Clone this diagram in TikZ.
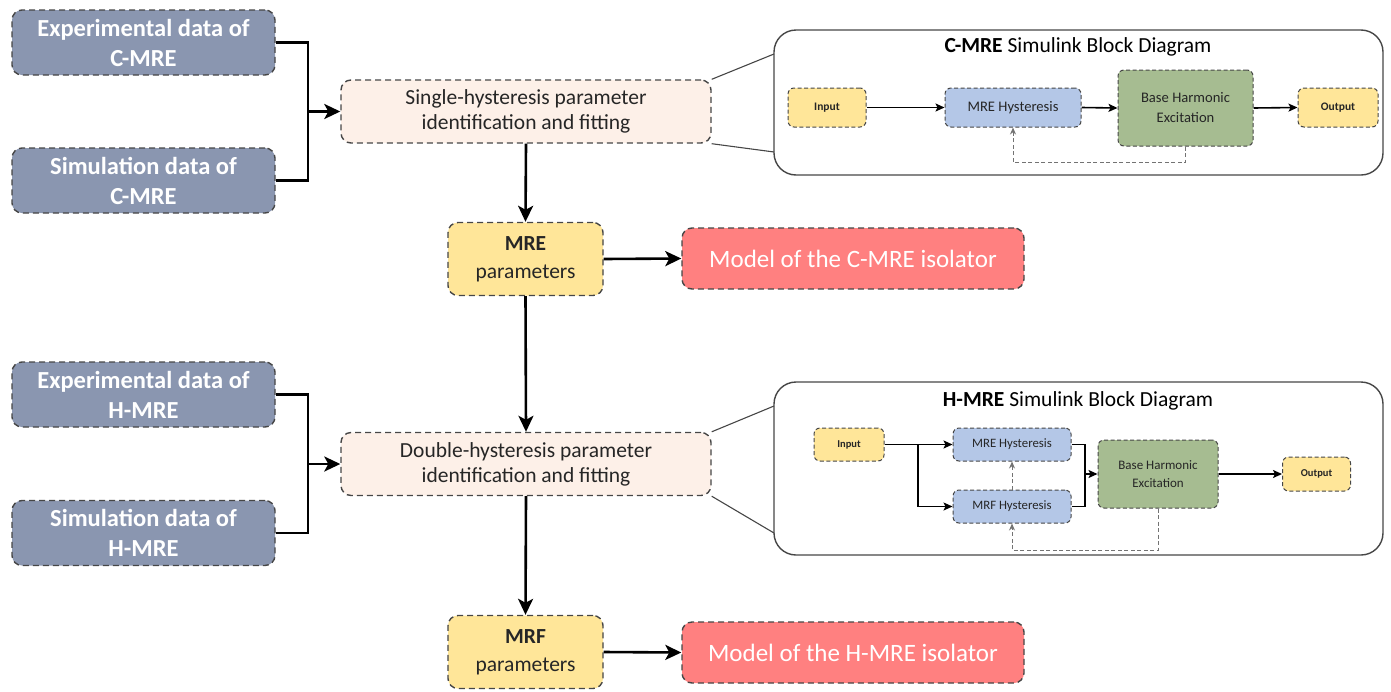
\documentclass[tikz,border=0pt]{standalone}
\usepackage{fontspec}
\setmainfont{Carlito}
\usepackage{xcolor}
\usepackage{tikz}
\usetikzlibrary{shapes.geometric, arrows, arrows.meta}
\definecolor{slate}{RGB}{138,150,176}
\definecolor{peach}{RGB}{253,240,232}
\definecolor{paleyellow}{RGB}{255,230,153}
\definecolor{salmon}{RGB}{255,128,128}
\definecolor{lightblue}{RGB}{180,199,231}
\definecolor{sage}{RGB}{166,188,145}
\definecolor{edge}{RGB}{70,70,70}
\tikzstyle{box} = [draw=edge, line width=1.4pt, dash pattern=on 6pt off 4pt, rounded corners=10pt, align=center, inner sep=0pt, text=black!85]
\tikzstyle{databox} = [box, fill=slate, text=white, minimum width=263pt, minimum height=65pt, font=\fontsize{24.5}{30}\selectfont\bfseries]
\tikzstyle{fitbox} = [box, fill=peach, minimum width=370pt, minimum height=63pt, font=\fontsize{21.5}{25}\selectfont]
\tikzstyle{parbox} = [box, fill=paleyellow, minimum width=155pt, minimum height=73pt, font=\fontsize{21.5}{28}\selectfont]
\tikzstyle{modelbox} = [box, fill=salmon, text=white, minimum width=342pt, minimum height=61pt, font=\fontsize{25}{28}\selectfont]
\tikzstyle{callout} = [draw=edge, line width=1.4pt, rounded corners=22pt]
\tikzstyle{sbox} = [draw=edge, line width=1pt, dash pattern=on 4pt off 2.5pt, rounded corners=6pt, align=center, inner sep=0pt, text=black!85]
\tikzstyle{arrow} = [line width=2.6pt,-{Stealth[length=16pt,width=15pt,inset=4pt]}]
\tikzstyle{joint} = [line width=2.6pt]
\tikzstyle{sarrow} = [line width=1.6pt,-{Stealth[length=9pt,width=8pt,inset=2pt]}]
\tikzstyle{sjoint} = [line width=1.6pt]
\tikzstyle{fb} = [draw=black!55, line width=1pt, dash pattern=on 4pt off 2.5pt, -{Stealth[length=7pt,width=6pt]}]
\tikzstyle{lead} = [draw=edge, line width=1.1pt]

\begin{document}
\begin{tikzpicture}[x=1pt, y=-1pt]
        \useasboundingbox (0,0) rectangle (1391,691);
        % Input data blocks
        \node[databox] (expc) at (143.5,42.5) {Experimental data of\\C-MRE};
        \node[databox] (simc) at (143.5,180.5) {Simulation data of\\C-MRE};
        \node[databox] (exph) at (143.5,394.5) {Experimental data of\\H-MRE};
        \node[databox] (simh) at (143.5,533) {Simulation data of\\H-MRE};

        % Fitting, parameters and models
        \node[fitbox] (fitc) at (526,111.5) {Single-hysteresis parameter\\identification and fitting};
        \node[fitbox] (fith) at (526,464) {Double-hysteresis parameter\\identification and fitting};
        \node[parbox] (parc) at (525.5,259) {\textbf{MRE}\\parameters};
        \node[parbox] (parh) at (525.5,652) {\textbf{MRF}\\parameters};
        \node[modelbox] (modc) at (853,258.5) {Model of the C-MRE isolator};
        \node[modelbox] (modh) at (853,652.5) {Model of the H-MRE isolator};

        \coordinate (jc) at (308,111.5);
        \coordinate (jh) at (308,464);
        \draw[joint] (expc.east) -| (jc);
        \draw[joint] (simc.east) -| (jc);
        \draw[arrow] (jc) -- (fitc.west);
        \draw[joint] (exph.east) -| (jh);
        \draw[joint] (simh.east) -| (jh);
        \draw[arrow] (jh) -- (fith.west);
        \draw[arrow] (fitc.south) -- (parc.north);
        \draw[arrow] (parc.south) -- (fith.north);
        \draw[arrow] (fith.south) -- (parh.north);
        \draw[arrow] (parc.east) -- (modc.west);
        \draw[arrow] (parh.east) -- (modh.west);

        % C-MRE Simulink block diagram
        \node[callout, minimum width=609pt, minimum height=145pt] (cboxc) at (1078.5,102.5) {};
        \node (titc) at (1078,47) {\fontsize{21.5}{24}\selectfont\textbf{C-MRE} Simulink Block Diagram};
        \coordinate (lc1) at (774,54);
        \coordinate (lc2) at (774,152);
        \draw[lead] (fitc.north east) -- (lc1);
        \draw[lead] (fitc.south east) -- (lc2);
        \node[sbox, fill=paleyellow, minimum width=78pt, minimum height=39pt, font=\fontsize{11.5}{12}\selectfont\bfseries] (inc) at (827,107.5) {Input};
        \node[sbox, fill=lightblue, minimum width=136pt, minimum height=39pt, font=\fontsize{14.6}{16}\selectfont] (hyc) at (1013,107.5) {MRE Hysteresis};
        \node[sbox, fill=sage, minimum width=135pt, minimum height=76pt, font=\fontsize{14.6}{20}\selectfont] (bhc) at (1185.5,108) {Base Harmonic\\Excitation};
        \node[sbox, fill=paleyellow, minimum width=80pt, minimum height=39pt, font=\fontsize{11.5}{12}\selectfont\bfseries] (outc) at (1338,107.5) {Output};
        \draw[sarrow] (inc.east) -- (hyc.west);
        \draw[sarrow] (hyc.east) -- (bhc.west);
        \draw[sarrow] (bhc.east) -- (outc.west);
        \coordinate (fbc) at (1013,162);
        \draw[fb] (bhc.south) |- (fbc) -- (hyc.south);

        % H-MRE Simulink block diagram
        \node[callout, minimum width=609pt, minimum height=173pt] (cboxh) at (1078.5,468.5) {};
        \node (tith) at (1078,401) {\fontsize{21.5}{24}\selectfont\textbf{H-MRE} Simulink Block Diagram};
        \coordinate (lh1) at (774,406);
        \coordinate (lh2) at (774,533);
        \draw[lead] (fith.north east) -- (lh1);
        \draw[lead] (fith.south east) -- (lh2);
        \node[sbox, fill=paleyellow, minimum width=70pt, minimum height=33pt, font=\fontsize{10.5}{11}\selectfont\bfseries] (inh) at (849,444.5) {Input};
        \node[sbox, fill=lightblue, minimum width=118pt, minimum height=33pt, font=\fontsize{12.8}{14}\selectfont] (hyh) at (1012,444.5) {MRE Hysteresis};
        \node[sbox, fill=lightblue, minimum width=118pt, minimum height=33pt, font=\fontsize{12.8}{14}\selectfont] (hfh) at (1012,506.5) {MRF Hysteresis};
        \node[sbox, fill=sage, minimum width=120pt, minimum height=68pt, font=\fontsize{13}{18}\selectfont] (bhh) at (1158,474) {Base Harmonic\\Excitation};
        \node[sbox, fill=paleyellow, minimum width=68pt, minimum height=34pt, font=\fontsize{10.5}{11}\selectfont\bfseries] (outh) at (1316.5,474) {Output};
        \coordinate (brh) at (918,444.5);
        \coordinate (mgh) at (1085,474);
        \draw[sarrow] (inh.east) -- (hyh.west);
        \draw[sarrow] (brh) |- (hfh.west);
        \draw[sjoint] (hyh.east) -| (mgh);
        \draw[sjoint] (hfh.east) -| (mgh);
        \draw[sarrow] (mgh) -- (bhh.west);
        \draw[sarrow] (bhh.east) -- (outh.west);
        \draw[fb] (hfh.north) -- (hyh.south);
        \coordinate (fbh) at (1012,550);
        \draw[fb] (bhh.south) |- (fbh) -- (hfh.south);
\end{tikzpicture}
\end{document}
